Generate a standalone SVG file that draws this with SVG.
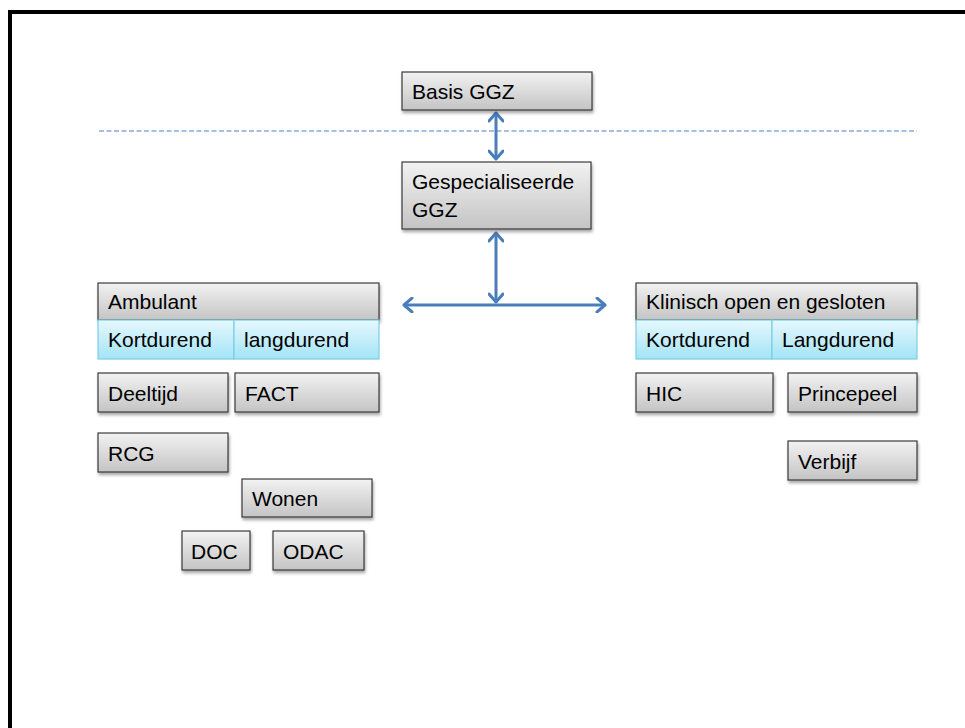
<svg xmlns="http://www.w3.org/2000/svg" width="965" height="728" viewBox="0 0 965 728">
<defs>
<linearGradient id="gGray" x1="0" y1="0" x2="0" y2="1">
<stop offset="0" stop-color="#f2f2f2"/>
<stop offset="1" stop-color="#c4c4c4"/>
</linearGradient>
<linearGradient id="gCyan" x1="0" y1="0" x2="0" y2="1">
<stop offset="0" stop-color="#e6f8fd"/>
<stop offset="1" stop-color="#a3e4f6"/>
</linearGradient>
<filter id="sh" x="-10%" y="-10%" width="130%" height="140%">
<feDropShadow dx="1" dy="2.5" stdDeviation="1.5" flood-color="#000" flood-opacity="0.35"/>
</filter>
<marker id="ah" viewBox="-12 -8 14 16" markerWidth="14" markerHeight="16" refX="0" refY="0" orient="auto-start-reverse" markerUnits="userSpaceOnUse">
<path d="M -8 -7 L 0 0 L -8 7" fill="none" stroke="#4a7ebb" stroke-width="3" stroke-linecap="round" stroke-linejoin="round"/>
</marker>
</defs>
<style>
.box{fill:url(#gGray);stroke:#3a3a3a;stroke-width:1.2;filter:url(#sh)}
.cy{fill:url(#gCyan);stroke:#7ccde4;stroke-width:1.2}
.t{font-family:"Liberation Sans",Arial,sans-serif;font-size:21px;fill:#000}
.con{stroke:#4a7ebb;stroke-width:3;fill:none}
</style>
<rect width="965" height="728" fill="#fff"/>
<rect x="10" y="12" width="1000" height="800" fill="none" stroke="#000" stroke-width="4"/>
<line x1="99" y1="131" x2="917" y2="131" stroke="#88acd8" stroke-width="1.6" stroke-dasharray="5 2.5"/>

<g id="connectors">
<line class="con" x1="496" y1="113" x2="496" y2="159" marker-start="url(#ah)" marker-end="url(#ah)"/>
<line class="con" x1="496" y1="233" x2="496" y2="302" marker-start="url(#ah)" marker-end="url(#ah)"/>
<line class="con" x1="404" y1="305" x2="605" y2="305" marker-start="url(#ah)" marker-end="url(#ah)"/>
</g>

<g id="basis"><rect class="box" x="402" y="72" width="190" height="38"/><text class="t" x="412" y="99">Basis GGZ</text></g>
<g id="gespecialiseerde"><rect class="box" x="402" y="162" width="189" height="67"/><text class="t" x="412" y="189">Gespecialiseerde</text><text class="t" x="412" y="217">GGZ</text></g>

<g id="ambulant"><rect class="box" x="98" y="283" width="281" height="37"/><text class="t" x="108" y="309">Ambulant</text></g>
<g id="amb-kort"><rect class="cy" x="98" y="320" width="136" height="39"/><text class="t" x="108" y="347">Kortdurend</text></g>
<g id="amb-lang"><rect class="cy" x="234" y="320" width="145" height="39"/><text class="t" x="244" y="347">langdurend</text></g>
<g id="deeltijd"><rect class="box" x="98" y="373" width="130" height="39"/><text class="t" x="108" y="401">Deeltijd</text></g>
<g id="fact"><rect class="box" x="235" y="373" width="144" height="39"/><text class="t" x="245" y="401">FACT</text></g>
<g id="rcg"><rect class="box" x="98" y="433" width="130" height="39"/><text class="t" x="108" y="461">RCG</text></g>
<g id="wonen"><rect class="box" x="242" y="479" width="130" height="38"/><text class="t" x="252" y="506">Wonen</text></g>
<g id="doc"><rect class="box" x="182" y="531" width="68" height="39"/><text class="t" x="191" y="559">DOC</text></g>
<g id="odac"><rect class="box" x="273" y="531" width="91" height="39"/><text class="t" x="283" y="559">ODAC</text></g>

<g id="klinisch"><rect class="box" x="636" y="283" width="281" height="37"/><text class="t" x="646" y="309">Klinisch open en gesloten</text></g>
<g id="kl-kort"><rect class="cy" x="636" y="320" width="136" height="39"/><text class="t" x="646" y="347">Kortdurend</text></g>
<g id="kl-lang"><rect class="cy" x="772" y="320" width="145" height="39"/><text class="t" x="782" y="347">Langdurend</text></g>
<g id="hic"><rect class="box" x="636" y="373" width="137" height="39"/><text class="t" x="646" y="401">HIC</text></g>
<g id="princepeel"><rect class="box" x="788" y="373" width="129" height="39"/><text class="t" x="798" y="401">Princepeel</text></g>
<g id="verbijf"><rect class="box" x="788" y="441" width="129" height="39"/><text class="t" x="798" y="469">Verbijf</text></g>
</svg>
